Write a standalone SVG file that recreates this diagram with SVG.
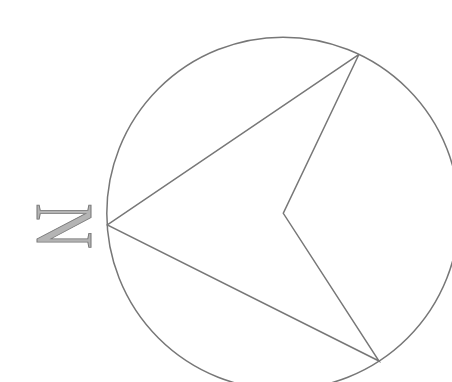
<svg xmlns="http://www.w3.org/2000/svg" width="452" height="382" viewBox="0 0 452 382">
<style>
.ln{fill:none;stroke:#777777;stroke-width:1.5;stroke-linejoin:miter}
.lbl{font-family:"Liberation Serif","DejaVu Serif",serif;font-size:83px;fill:#b4b4b4;stroke:#777777;stroke-width:1;text-anchor:middle}
</style>
<rect width="452" height="382" fill="#ffffff"/>
<g id="compass">
<circle class="ln" cx="283" cy="213.4" r="176.2"/>
</g>
<g id="connectors">
<polyline class="ln" points="359,54.3 107.3,225 379,361 283.3,213.3 359,54.3"/>
</g>
<g id="north">
<text class="lbl" transform="translate(37,226) rotate(90) scale(0.76 1)" x="0" y="0">N</text>
</g>
</svg>
